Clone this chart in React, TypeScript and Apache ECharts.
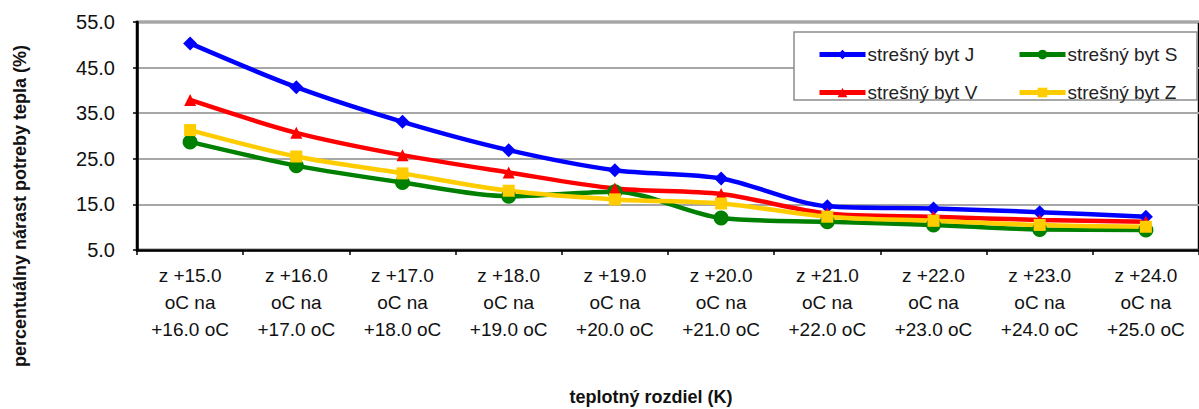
import React, { useEffect, useRef } from "react";
import * as echarts from "echarts";

const categories = [
  "z +15.0\noC na\n+16.0 oC",
  "z +16.0\noC na\n+17.0 oC",
  "z +17.0\noC na\n+18.0 oC",
  "z +18.0\noC na\n+19.0 oC",
  "z +19.0\noC na\n+20.0 oC",
  "z +20.0\noC na\n+21.0 oC",
  "z +21.0\noC na\n+22.0 oC",
  "z +22.0\noC na\n+23.0 oC",
  "z +23.0\noC na\n+24.0 oC",
  "z +24.0\noC na\n+25.0 oC",
];

const bytJ = [50.3, 40.7, 33.1, 26.9, 22.5, 20.7, 14.6, 14.1, 13.3, 12.3];
const bytV = [37.9, 30.7, 25.8, 22.0, 18.5, 17.3, 13.0, 12.3, 11.6, 11.2];
const bytS = [28.7, 23.5, 19.8, 16.8, 17.8, 12.0, 11.2, 10.5, 9.5, 9.4];
const bytZ = [31.3, 25.5, 21.8, 18.0, 16.1, 15.2, 12.3, 11.4, 10.5, 10.1];

const yTicks = [5, 15, 25, 35, 45, 55];

const FONT = "'Liberation Sans', Arial, sans-serif";

export default function App() {
  const ref = useRef<HTMLDivElement>(null);
  useEffect(() => {
    if (!ref.current) return;
    const chart = echarts.init(ref.current, undefined, { renderer: "svg" });
    const mk = (name: string, data: number[], color: string, symbol: string, size: number) => ({
      name,
      type: "line",
      data,
      smooth: 0.3,
      symbol,
      symbolSize: size,
      lineStyle: { color, width: 4.5 },
      itemStyle: { color, borderWidth: 0 },
      emphasis: { disabled: true },
    });
    const legendCommon = {
      orient: "vertical",
      top: 40,
      itemWidth: 46,
      itemHeight: 12,
      itemGap: 19,
      lineStyle: { width: 5 },
      textStyle: { fontFamily: FONT, fontSize: 19, color: "#222", padding: [0, 0, 0, -3] },
      selectedMode: false,
    };
    chart.setOption({
      animation: false,
      grid: {
        left: 137,
        top: 22,
        right: -4,
        bottom: 159,
        show: true,
        borderColor: "#000",
        borderWidth: 2.5,
        backgroundColor: "transparent",
      },
      legend: [
        { ...legendCommon, data: ["strešný byt J", "strešný byt V"], left: 812 },
        { ...legendCommon, data: ["strešný byt S", "strešný byt Z"], left: 1012 },
      ],
      graphic: [
        {
          type: "rect",
          z: 3,
          shape: { x: 794, y: 32, width: 403, height: 68 },
          style: { fill: "#fff", stroke: "#8c8c8c", lineWidth: 1.5 },
        },
        {
          type: "text",
          x: 20,
          y: 206,
          rotation: Math.PI / 2,
          style: {
            text: "percentuálny nárast potreby tepla (%)",
            font: `bold 18px ${FONT}`,
            fill: "#111",
            align: "center",
            verticalAlign: "middle",
          },
        },
        {
          type: "text",
          x: 651,
          y: 397,
          style: {
            text: "teplotný rozdiel (K)",
            font: `bold 18px ${FONT}`,
            fill: "#111",
            align: "center",
            verticalAlign: "middle",
          },
        },
      ],
      xAxis: {
        type: "category",
        data: categories,
        boundaryGap: true,
        axisLine: { lineStyle: { color: "#000", width: 2.5 } },
        axisTick: { show: true, length: 5, lineStyle: { color: "#000", width: 1.5 } },
        axisLabel: {
          fontFamily: FONT,
          fontSize: 19,
          lineHeight: 27,
          margin: 12,
          color: "#111",
          interval: 0,
        },
        splitLine: { show: false },
      },
      yAxis: {
        type: "value",
        min: 5,
        max: 55,
        axisLine: { show: true, lineStyle: { color: "#000", width: 2.5 } },
        axisTick: { show: true, length: 4, customValues: yTicks, lineStyle: { color: "#000", width: 1.5 } },
        axisLabel: {
          customValues: yTicks,
          formatter: (v: number) => v.toFixed(1),
          fontFamily: FONT,
          fontSize: 20,
          margin: 22,
          color: "#111",
        },
        splitLine: { show: true, lineStyle: { color: "#a6a6a6", width: 2 } },
      },
      series: [
        mk("strešný byt J", bytJ, "#0000ff", "diamond", 14),
        mk("strešný byt S", bytS, "#008000", "circle", 15),
        mk("strešný byt V", bytV, "#ff0000", "triangle", 12),
        mk("strešný byt Z", bytZ, "#ffcc00", "rect", 12),
      ],
    });
    return () => chart.dispose();
  }, []);
  return (
    <div
      ref={ref}
      style={{ position: "absolute", left: 0, top: 0, width: 1199, height: 409, background: "#fff" }}
    />
  );
}
